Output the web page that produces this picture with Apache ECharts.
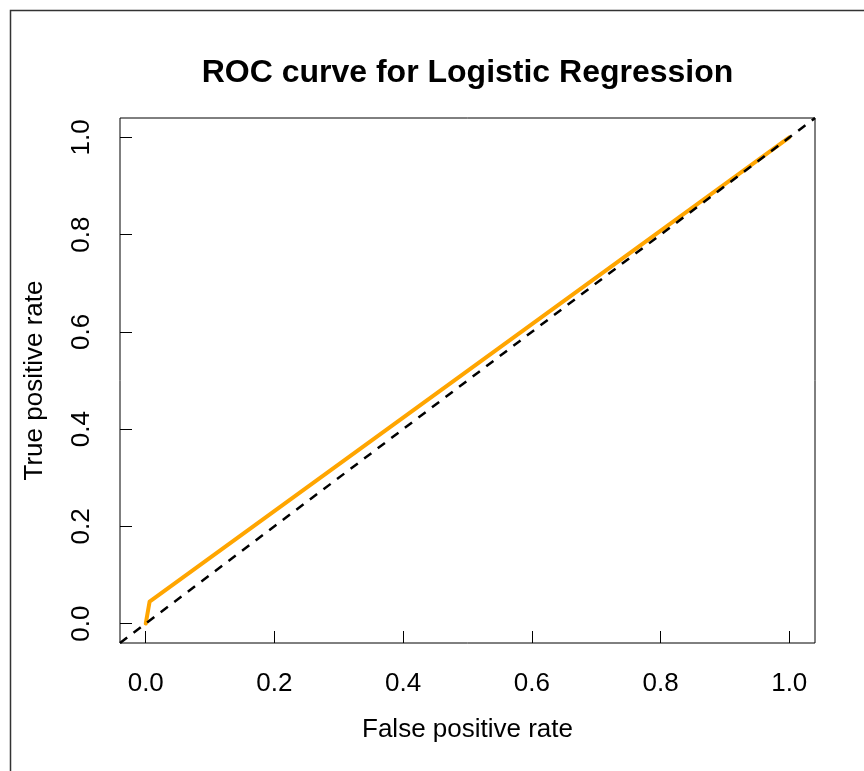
<!DOCTYPE html>
<html>
<head>
<meta charset="utf-8">
<script src="https://cdn.jsdelivr.net/npm/echarts@6/dist/echarts.min.js"></script>
<style>
  html, body { margin: 0; padding: 0; background: #ffffff; }
  #chart { width: 864px; height: 771px; }
</style>
</head>
<body>
<div id="chart"></div>
<script>
// ROC curve points (false positive rate, true positive rate)
const fpr = [0, 0.006, 1];
const tpr = [0, 0.045, 1];

// Reference diagonal (chance line), drawn across the full plotting range
const diagX = [-0.04, 1.04];
const diagY = [-0.04, 1.04];

// Axis tick positions and labels
const xTicks = [0, 0.2, 0.4, 0.6, 0.8, 1.0];
const yTicks = [0, 0.2, 0.4, 0.6, 0.8, 1.0];
const tickText = v => v.toFixed(1);

const titleText = 'ROC curve for Logistic Regression';
const xTitle = 'False positive rate';
const yTitle = 'True positive rate';

const FONT = '"Liberation Sans", Arial, Helvetica, sans-serif';

const chart = echarts.init(document.getElementById('chart'), null, { renderer: 'canvas' });

const rocData = fpr.map((x, i) => [x, tpr[i]]);
const diagData = diagX.map((x, i) => [x, diagY[i]]);

const gridLeft = 120, gridTop = 118, gridRight = 49, gridBottom = 128;

// The plot frame comes from the grid border; axes only contribute ticks and labels.
// A negative tick length turns the ticks so they point away from the plot.
const axisCommon = {
  type: 'value', min: -0.04, max: 1.04,
  nameLocation: 'middle', nameMoveOverlap: false,
  nameTextStyle: { fontFamily: FONT, fontSize: 26, color: '#000' },
  axisLine: { show: false, onZero: false },
  splitLine: { show: false },
  axisTick: { show: true, inside: false, length: -12, lineStyle: { color: '#000', width: 1 } }
};

chart.setOption({
  animation: false,
  backgroundColor: '#ffffff',
  title: {
    text: titleText,
    left: gridLeft + (864 - gridLeft - gridRight) / 2 - 5,
    textAlign: 'center',
    top: 52,
    textStyle: { fontFamily: FONT, fontSize: 32, fontWeight: 'bold', color: '#000' }
  },
  grid: {
    left: gridLeft, top: gridTop, right: gridRight, bottom: gridBottom,
    show: true, borderColor: '#000', borderWidth: 1, backgroundColor: 'transparent'
  },
  xAxis: Object.assign({}, axisCommon, {
    name: xTitle, nameGap: 74,
    axisTick: Object.assign({}, axisCommon.axisTick, { customValues: xTicks }),
    axisLabel: { customValues: xTicks, formatter: tickText, margin: 28,
      fontFamily: FONT, fontSize: 26, color: '#000' }
  }),
  yAxis: Object.assign({}, axisCommon, {
    name: yTitle, nameGap: 72,
    axisTick: Object.assign({}, axisCommon.axisTick, { customValues: yTicks }),
    axisLabel: { customValues: yTicks, formatter: tickText, margin: 25, rotate: 90,
      fontFamily: FONT, fontSize: 26, color: '#000' }
  }),
  series: [
    {
      name: 'ROC', type: 'line', data: rocData, symbol: 'none', z: 2,
      lineStyle: { color: '#FFA500', width: 4, cap: 'round', join: 'round' }
    },
    {
      name: 'Chance', type: 'line', data: diagData, symbol: 'none', z: 3,
      lineStyle: { color: '#000', width: 2.5, type: [9, 8] }
    }
  ],
  graphic: [
    {
      type: 'rect', silent: true, z: 0,
      shape: { x: 10.5, y: 10.5, width: 900, height: 800 },
      style: { fill: null, stroke: '#333', lineWidth: 1.5 }
    }
  ]
});
</script>
</body>
</html>
